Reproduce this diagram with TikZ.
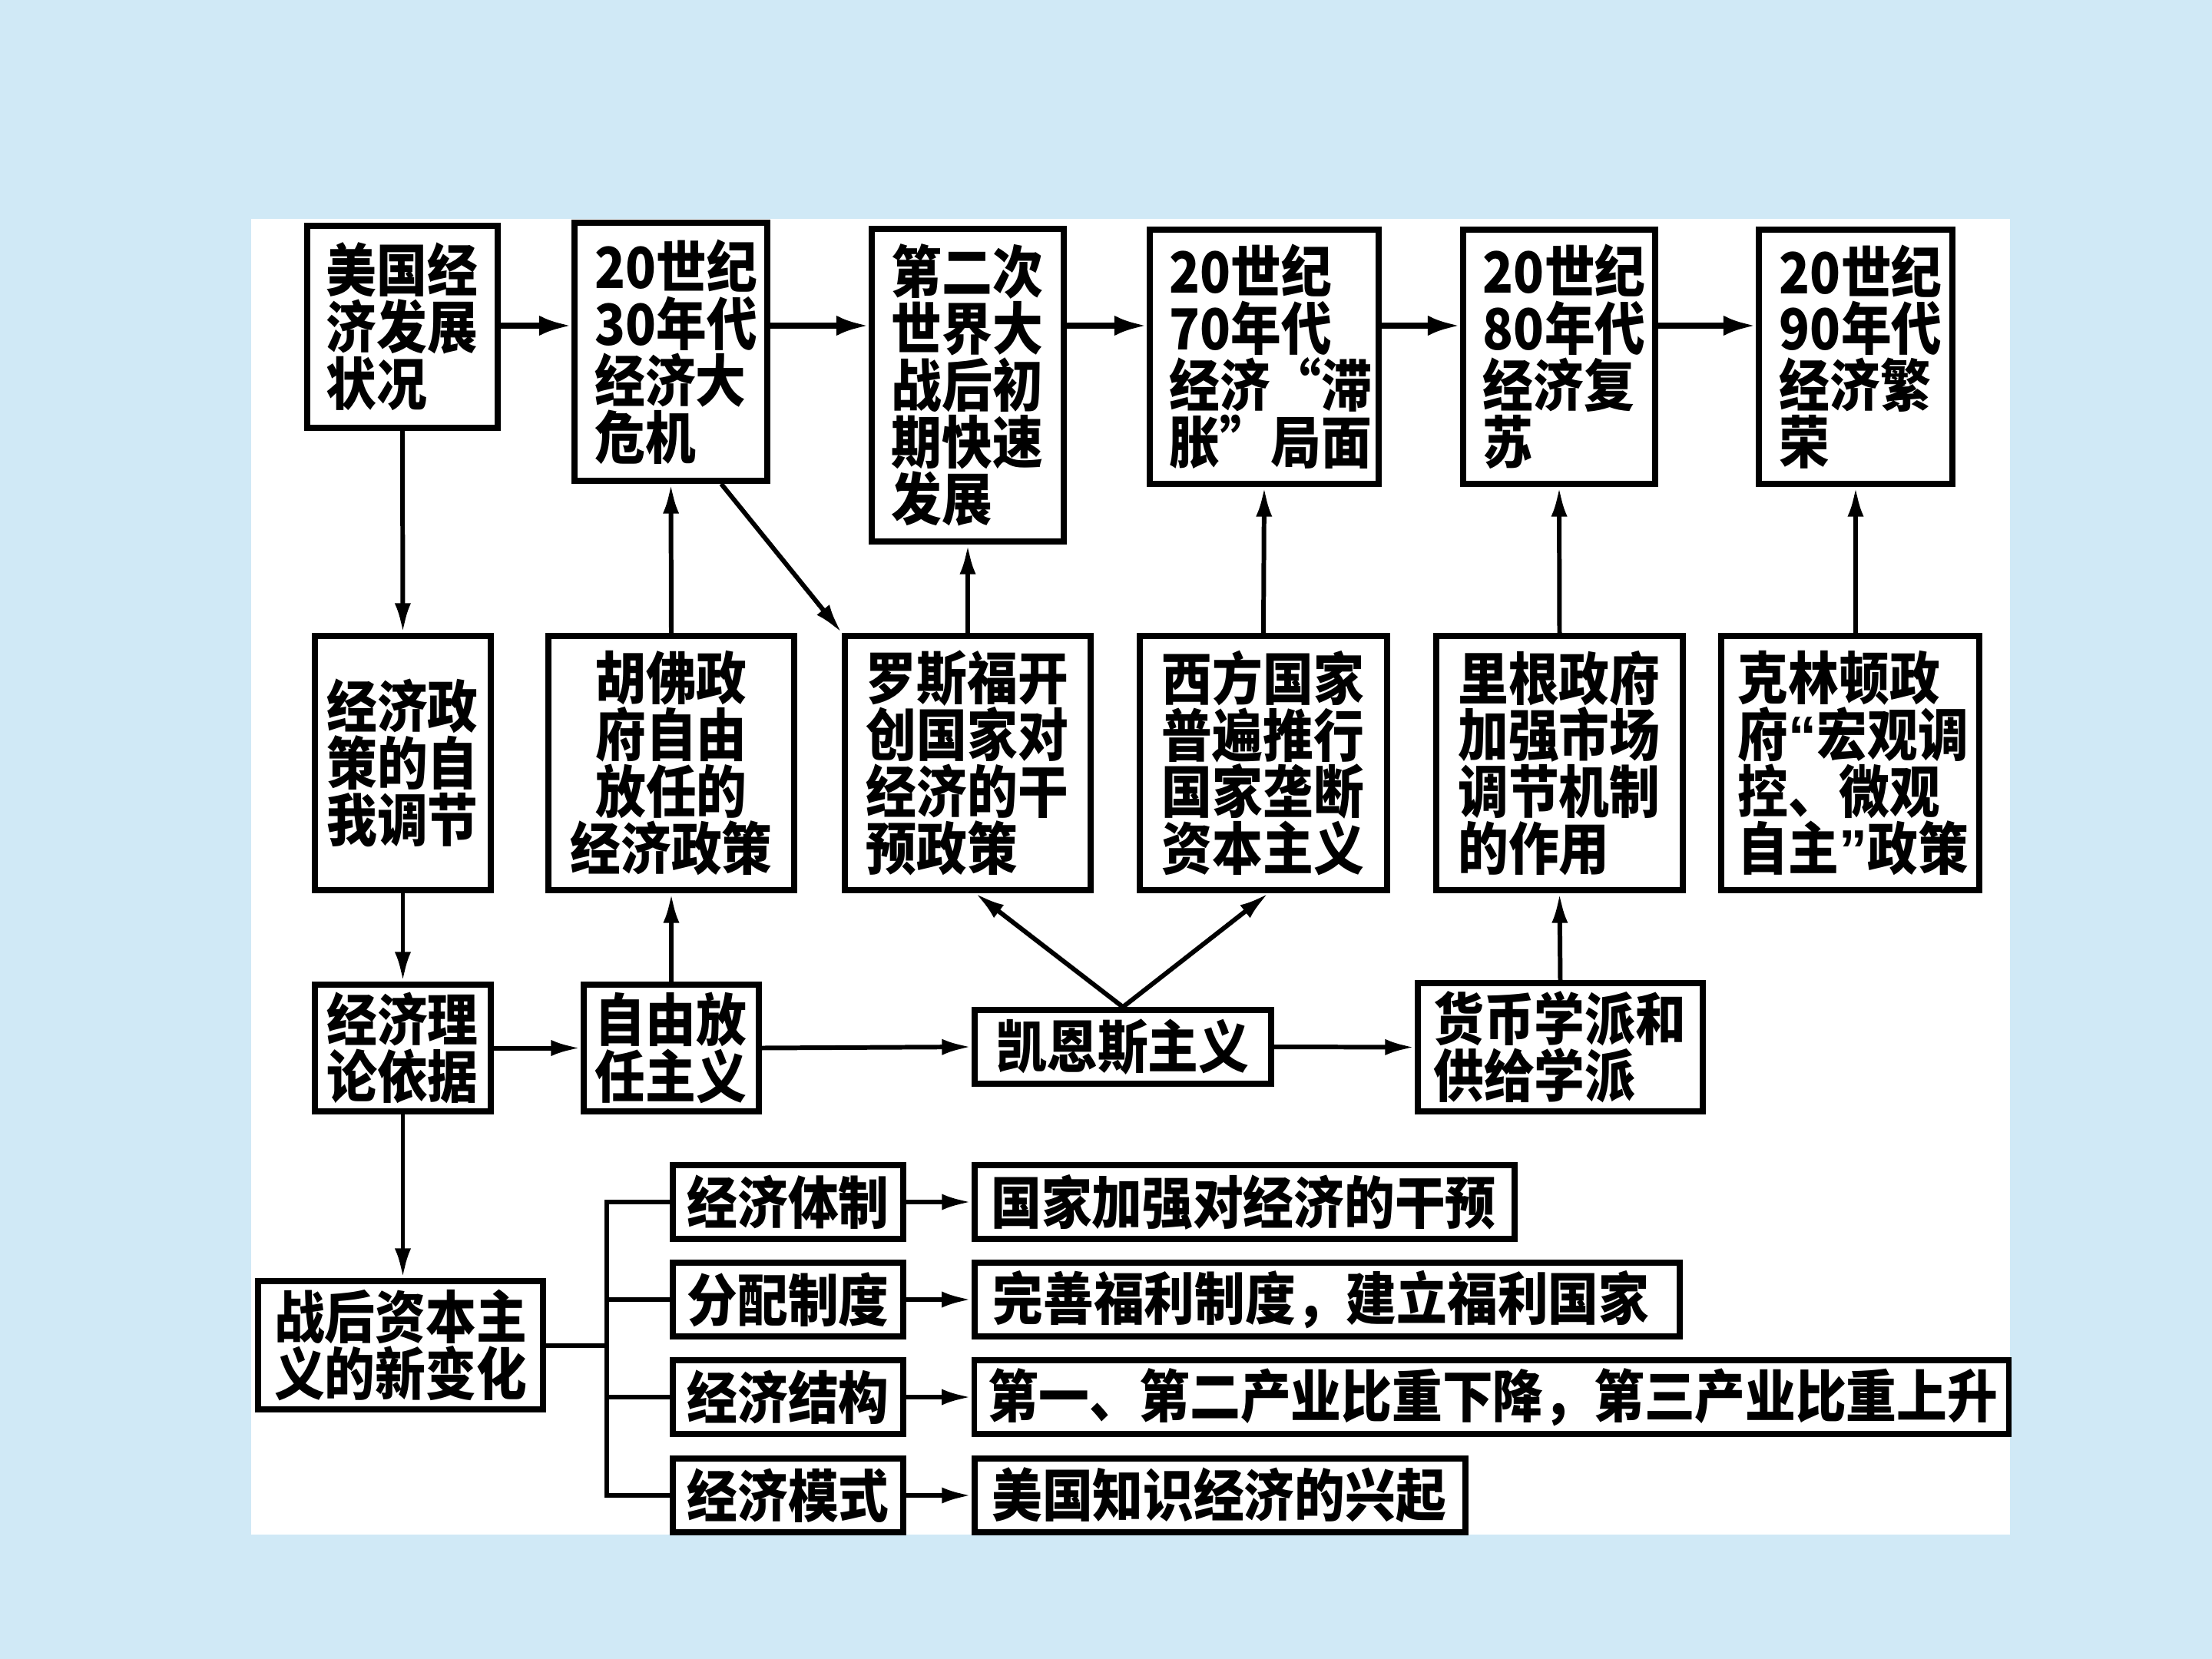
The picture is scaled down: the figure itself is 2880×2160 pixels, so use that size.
\documentclass[tikz,border=0pt]{standalone}
\usepackage{fontspec}
\setmainfont{Noto Sans CJK SC}[FakeStretch=0.89]
\newfontfamily\qfont{Liberation Sans}
\usetikzlibrary{arrows.meta,calc}
\definecolor{bgblue}{RGB}{208,233,246}
\tikzset{
  box/.style={draw, line width=2.2pt, fill=white, inner sep=0pt, align=left,
    font=\fontsize{21pt}{21pt}\selectfont\bfseries},
  cbox/.style={box, align=center},
  arr/.style={line width=1.7pt, -{Latex[length=11pt,width=6pt]}},
  tarr/.style={line width=2.2pt, -{Latex[length=12pt,width=7.5pt]}},
  ln/.style={line width=1.7pt, line join=miter}
}
\begin{document}
\begin{tikzpicture}[x=0.01cm,y=-0.01cm]
\useasboundingbox (0,0) rectangle (2880,2160);
\fill[bgblue] (0,0) rectangle (2880,2160);
\fill[white] (327,285) rectangle (2617,1998);

% top row
\node[box, minimum width=2.48cm, minimum height=2.63cm, text width=1.98cm] (b1) at (524,425.5) {美国经\\济发展\\状况};
\node[box, minimum width=2.51cm, minimum height=3.36cm, text width=1.98cm] (b2) at (873.5,458) {20世纪\\30年代\\经济大\\危机};
\node[box, minimum width=2.50cm, minimum height=4.07cm, text width=1.98cm] (b3) at (1260,501.5) {第二次\\世界大\\战后初\\期快速\\发展};
\node[box, minimum width=2.98cm, minimum height=3.31cm, text width=2.46cm] (b4) at (1646,464.5) {20世纪\\70年代\\经济“滞\\胀”局面};
\node[box, minimum width=2.50cm, minimum height=3.31cm, text width=1.98cm] (b5) at (2030,464.5) {20世纪\\80年代\\经济复\\苏};
\node[box, minimum width=2.52cm, minimum height=3.31cm, text width=1.98cm] (b6) at (2416,464.5) {20世纪\\90年代\\经济繁\\荣};

% middle row
\node[box, minimum width=2.29cm, minimum height=3.31cm, text width=1.98cm] (b7) at (524.5,993.5) {经济政\\策的自\\我调节};
\node[cbox, minimum width=3.20cm, minimum height=3.31cm, text width=2.64cm] (b8) at (874,993.5) {胡佛政\\府自由\\放任的\\经济政策};
\node[box, minimum width=3.20cm, minimum height=3.31cm, text width=2.64cm] (b9) at (1260,993.5) {罗斯福开\\创国家对\\经济的干\\预政策};
\node[box, minimum width=3.22cm, minimum height=3.31cm, text width=2.64cm] (b10) at (1645,993.5) {西方国家\\普遍推行\\国家垄断\\资本主义};
\node[box, minimum width=3.21cm, minimum height=3.31cm, text width=2.64cm] (b11) at (2030.5,993.5) {里根政府\\加强市场\\调节机制\\的作用};
\node[box, minimum width=3.36cm, minimum height=3.31cm, text width=2.92cm] (b12) at (2409,993.5) {克林顿政\\府{\qfont\bfseries “}宏观调\\控、微观\\自主{\qfont\bfseries ”}政策};

% third row
\node[box, minimum width=2.29cm, minimum height=1.65cm, text width=1.98cm] (b13) at (524.5,1364.5) {经济理\\论依据};
\node[box, minimum width=2.28cm, minimum height=1.65cm, text width=1.98cm] (b14) at (874,1364.5) {自由放\\任主义};
\node[cbox, minimum width=3.86cm, minimum height=0.96cm, text width=3.30cm] (b15) at (1462,1363) {凯恩斯主义};
\node[box, minimum width=3.71cm, minimum height=1.67cm, text width=3.30cm] (b16) at (2031.5,1363.5) {货币学派和\\供给学派};

% bottom part
\node[cbox, minimum width=3.71cm, minimum height=1.67cm, text width=3.30cm] (b17) at (521.5,1751.5) {战后资本主\\义的新变化};
\node[cbox, minimum width=3.00cm, minimum height=0.96cm, text width=2.64cm] (c1) at (1026,1565) {经济体制};
\node[cbox, minimum width=3.00cm, minimum height=0.96cm, text width=2.64cm] (c2) at (1026,1692) {分配制度};
\node[cbox, minimum width=3.00cm, minimum height=0.96cm, text width=2.64cm] (c3) at (1026,1819) {经济结构};
\node[cbox, minimum width=3.00cm, minimum height=0.96cm, text width=2.64cm] (c4) at (1026,1947) {经济模式};
\node[box, minimum width=7.03cm, minimum height=0.96cm, text width=6.60cm] (r1) at (1620.5,1565) {国家加强对经济的干预};
\node[box, minimum width=9.18cm, minimum height=0.96cm, text width=8.70cm] (r2) at (1728,1692) {完善福利制度，建立福利国家};
\node[box, minimum width=13.46cm, minimum height=0.96cm, text width=13.10cm] (r3) at (1942,1819) {第一、第二产业比重下降，第三产业比重上升};
\node[box, minimum width=6.39cm, minimum height=0.96cm, text width=5.94cm] (r4) at (1588.5,1947) {美国知识经济的兴起};

% top row arrows
\coordinate (ya) at (0,424);
\draw[tarr] (b1.east |- ya) -- (b2.west |- ya);
\draw[tarr] (b2.east |- ya) -- (b3.west |- ya);
\draw[tarr] (b3.east |- ya) -- (b4.west |- ya);
\draw[tarr] (b4.east |- ya) -- (b5.west |- ya);
\draw[tarr] (b5.east |- ya) -- (b6.west |- ya);

% verticals
\draw[arr] (b1.south) -- (b7.north);
\draw[arr] (b7.south) -- (b13.north);
\draw[arr] (b13.south) -- (b13.south |- b17.north);
\draw[arr] (b14.north) -- (b8.south);
\draw[arr] (b8.north) -- (b2.south);
\draw[arr] (b9.north) -- (b3.south);
\draw[arr] (b10.north) -- (b4.south);
\draw[arr] (b16.north) -- (b11.south);
\draw[arr] (b11.north) -- (b5.south);
\draw[arr] (b6.south |- b12.north) -- (b6.south);
\draw[arr] ($(b2.south west)!0.753!(b2.south east)$) -- (b9.north west);

% horizontals third row
\draw[arr] (b13.east) -- (b14.west);
\draw[arr] (b14.east) -- (b15.west);
\draw[arr] (b15.east) -- (b16.west);

% Keynes diagonals
\draw[arr] (b15.north) -- ($(b9.south west)!0.53!(b9.south east)$);
\draw[arr] (b15.north) -- ($(b10.south west)!0.52!(b10.south east)$);

% branch
\coordinate (br) at (790,1751.5);
\draw[ln] (b17.east) -- (br);
\draw[ln] (c1.west) -- (br |- c1.west) -- (br |- c4.west) -- (c4.west);
\draw[ln] (br |- c2.west) -- (c2.west);
\draw[ln] (br |- c3.west) -- (c3.west);
\draw[arr] (c1.east) -- (r1.west);
\draw[arr] (c2.east) -- (r2.west);
\draw[arr] (c3.east) -- (r3.west);
\draw[arr] (c4.east) -- (r4.west);
\end{tikzpicture}
\end{document}
